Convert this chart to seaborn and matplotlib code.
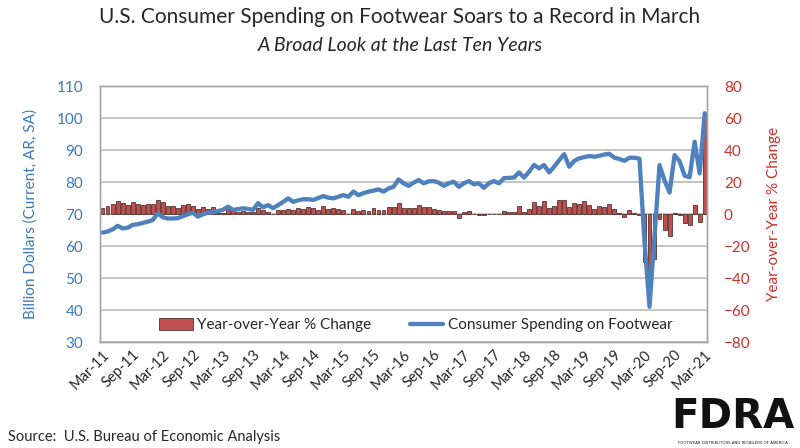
import numpy as np
import pandas as pd
import matplotlib
matplotlib.use("Agg")
import matplotlib.pyplot as plt
import seaborn as sns
from matplotlib.patches import Patch
from matplotlib.lines import Line2D

# monthly values, Mar-11 .. Mar-21
spending = [
    64.2, 64.5, 65.2, 66.3, 65.5, 65.7, 66.6, 66.8, 67.2, 67.6,
    68.1, 70.2, 69.0, 68.6, 68.6, 68.7, 69.3, 69.9, 70.4, 69.2,
    69.9, 70.4, 70.6, 70.9, 71.3, 72.3, 71.3, 71.5, 71.8, 71.6,
    71.3, 73.4, 72.1, 72.8, 71.8, 72.8, 73.8, 74.9, 73.8, 74.3,
    74.6, 74.6, 74.4, 75.0, 75.6, 75.1, 74.9, 75.4, 75.9, 75.4,
    77.0, 75.9, 76.5, 77.0, 77.3, 77.7, 77.0, 78.0, 78.5, 80.8,
    79.6, 78.8, 79.8, 80.6, 79.6, 80.2, 80.3, 79.8, 78.8, 79.6,
    80.1, 78.5, 79.6, 80.3, 79.3, 79.6, 78.2, 79.6, 80.3, 79.6,
    81.2, 81.3, 81.4, 83.0, 81.4, 83.2, 85.3, 84.3, 85.3, 83.0,
    84.8, 86.8, 88.7, 84.8, 86.6, 87.4, 87.8, 88.1, 87.9, 88.2,
    88.6, 88.8, 87.6, 87.2, 86.6, 87.6, 87.6, 87.3, 61.5, 41.0,
    63.0, 85.3, 80.5, 76.7, 88.4, 86.5, 82.0, 81.5, 92.6, 82.7,
    101.5,
]

yoy = [
    3.6, 4.7, 6.3, 7.9, 7.0, 5.5, 7.5, 6.3, 5.4, 6.5,
    6.3, 8.7, 7.8, 5.3, 5.2, 3.8, 5.5, 6.0, 4.7, 3.4,
    4.1, 3.0, 4.5, 0.8, 0.8, 5.0, 1.8, 1.4, 1.8, 1.4,
    1.4, 4.0, 2.5, 1.3, 0.2, 2.8, 2.6, 3.3, 2.7, 3.8,
    3.3, 4.3, 3.9, 2.6, 4.9, 3.0, 3.9, 3.0, 2.6, 0.3,
    3.2, 1.6, 2.2, 2.0, 4.0, 2.3, 2.5, 4.2, 4.4, 6.9,
    4.0, 3.9, 3.6, 5.8, 4.2, 4.2, 3.1, 2.8, 2.1, 1.9,
    2.1, -2.4, 1.2, 2.1, -0.3, -0.8, -0.8, -0.2, 0.2, -0.2,
    2.1, 1.2, 1.2, 4.9, 1.2, 3.1, 7.5, 5.2, 8.1, 4.0,
    5.2, 9.0, 9.0, 4.2, 6.9, 6.0, 8.1, 5.4, 3.1, 4.9,
    4.5, 6.0, 3.0, 0.6, -1.9, 2.7, 0.4, -0.5, -29.8, -53.0,
    -28.3, -3.3, -10.0, -13.5, 0.8, -0.6, -5.4, -6.9, 5.6, -4.8,
    63.0,
]

tick_labels = ["Mar-11", "Sep-11", "Mar-12", "Sep-12", "Mar-13", "Sep-13",
               "Mar-14", "Sep-14", "Mar-15", "Sep-15", "Mar-16", "Sep-16",
               "Mar-17", "Sep-17", "Mar-18", "Sep-18", "Mar-19", "Sep-19",
               "Mar-20", "Sep-20", "Mar-21"]

months = pd.date_range("2011-03-01", periods=len(spending), freq="MS")
df = pd.DataFrame({"month": months.strftime("%b-%y"),
                   "pos": np.arange(len(spending)),
                   "spending": spending, "yoy": yoy})

sns.set_style("white")
plt.rcParams["font.family"] = ["Lato", "DejaVu Sans"]

BLUE = "#4F81BD"
BLUE_TXT = "#3B78BE"
RED = "#C0504D"
RED_TXT = "#C8322B"
GRID = "#B5B5B5"

fig = plt.figure(figsize=(8, 4.48), dpi=100)
ax = fig.add_axes([0.125, 0.2366, 0.759, 0.5714])
ax2 = ax.twinx()

# bars (right axis), drawn behind the line
sns.barplot(data=df, x="pos", y="yoy", ax=ax2, color=RED, width=0.78,
            edgecolor="#3a1a18", linewidth=0.5, saturation=1)
ax2.set_ylim(-80, 80)
ax2.set_yticks(np.arange(-80, 81, 20))
ax2.grid(axis="y", color=GRID, linewidth=1.1)
ax2.set_axisbelow(True)

# line (left axis)
sns.lineplot(data=df, x="pos", y="spending", ax=ax, color=BLUE, linewidth=3.1)
ax.set_ylim(30, 110)
ax.set_yticks(np.arange(30, 111, 10))
ax.set_xlim(-0.5, len(spending) - 0.5)
ax.set_zorder(ax2.get_zorder() + 1)
ax.patch.set_visible(False)
ax.grid(False)

ax.set_xticks(np.arange(0, len(spending), 6))
ax.set_xticklabels(tick_labels, rotation=45, ha="right", rotation_mode="anchor",
                   fontsize=10.5)
ax.tick_params(axis="x", length=0, pad=4)
ax.tick_params(axis="y", length=0, labelsize=11, labelcolor=BLUE_TXT, pad=12)
ax2.tick_params(axis="y", length=0, labelsize=11, labelcolor=RED_TXT, pad=12)
ax.set_xlabel("")
ax2.set_xlabel("")

ax.set_ylabel("Billion Dollars (Current, AR, SA)", color=BLUE_TXT, fontsize=11, labelpad=14)
ax2.set_ylabel("Year-over-Year % Change", color=RED_TXT, fontsize=11, labelpad=12)

for a in (ax, ax2):
    for s in a.spines.values():
        s.set_color("#A6A6A6")
        s.set_linewidth(1.0)

handles = [Patch(facecolor=RED, edgecolor="#3a1a18", linewidth=0.5),
           Line2D([0], [0], color=BLUE, linewidth=3.1)]
ax.legend(handles, ["Year-over-Year % Change", "Consumer Spending on Footwear"],
          loc="center", bbox_to_anchor=(0.52, 0.066), ncol=2, frameon=False,
          fontsize=11, handlelength=2.2, handleheight=0.8, columnspacing=2.5,
          handletextpad=0.3)

fig.text(0.5, 0.962, "U.S. Consumer Spending on Footwear Soars to a Record in March",
         ha="center", va="center", fontsize=15)
fig.text(0.5, 0.898, "A Broad Look at the Last Ten Years",
         ha="center", va="center", fontsize=14, style="italic")
fig.text(0.01, 0.024, "Source:  U.S. Bureau of Economic Analysis",
         ha="left", va="center", fontsize=10.5)

# logo text
fig.text(0.916, 0.07, "FDRA", ha="center", va="center", fontsize=29,
         fontweight="heavy", family="DejaVu Sans", color="#111111")
fig.text(0.916, 0.012, "FOOTWEAR DISTRIBUTORS AND RETAILERS OF AMERICA",
         ha="center", va="center", fontsize=2.8, family="DejaVu Sans", color="#222222")

fig.savefig("out.png", dpi=100)
